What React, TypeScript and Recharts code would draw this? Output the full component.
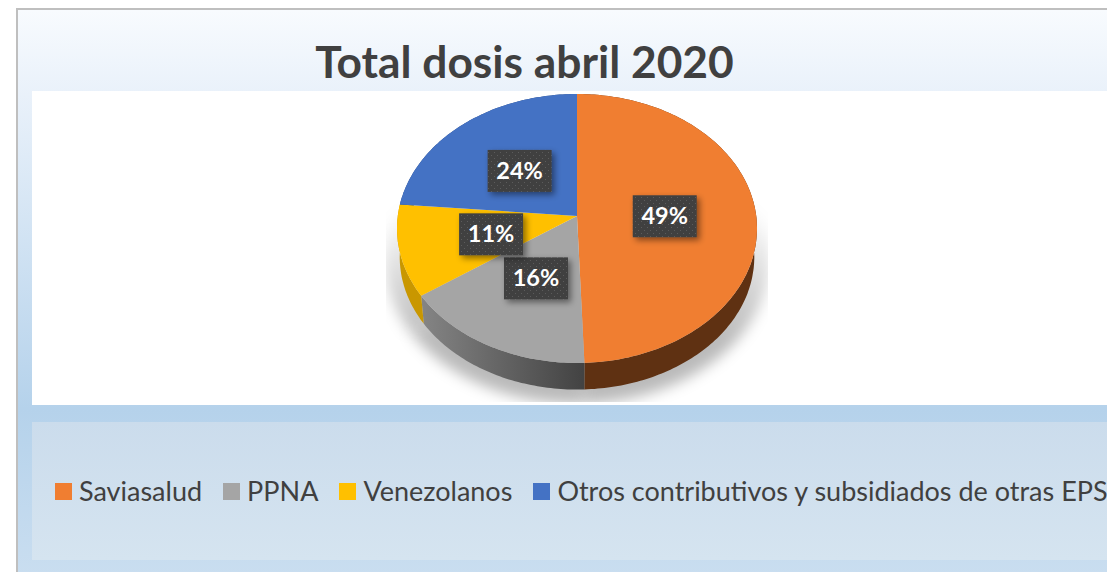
import { PieChart, Pie, Legend } from "recharts";

const categories = ["Saviasalud", "PPNA", "Venezolanos", "Otros contributivos y subsidiados de otras EPS"];
const shares = [49.4, 16.0, 11.0, 23.6];
const colors = ["#f07e31", "#a5a5a5", "#ffc000", "#4472c4"];
const wallColors = ["#5f3112", "url(#grayWall)", "#c99700", "#2b4a80"];

const data = categories.map((name, i) => ({ name, value: shares[i], fill: colors[i] }));

const WIDTH = 1107;
const HEIGHT = 572;
const CX = 577;
const CY = 216;
const RADIUS = 180;
const WALL = 29;
const FONT = "Lato, 'Open Sans', sans-serif";

// the tilted pie is a circle seen in perspective, so the apex sits above the ellipse centre
function project(cx: number, cy: number, r: number, deg: number) {
  const a = (deg * Math.PI) / 180;
  const u = Math.cos(a) * (r / RADIUS);
  const v = Math.sin(a) * (r / RADIUS);
  const w = 1 + 0.0929 * v;
  return { x: cx + (RADIUS * 0.9956 * u) / w, y: cy - (RADIUS * 0.7407 * v) / w };
}

function arcPoints(p: any, dy = 0, scale = 1) {
  const pts: string[] = [];
  const n = Math.max(2, Math.ceil(Math.abs(p.endAngle - p.startAngle)));
  for (let i = 0; i <= n; i++) {
    const deg = p.startAngle + ((p.endAngle - p.startAngle) * i) / n;
    const q = project(p.cx, p.cy, p.outerRadius * scale, deg);
    pts.push(`${q.x.toFixed(1)},${(q.y + dy).toFixed(1)}`);
  }
  return pts;
}

function TopSlice(p: any) {
  return <path d={`M${p.cx},${p.cy} L${arcPoints(p).join(" L")} Z`} fill={p.fill} stroke="none" />;
}

function WallSlice(p: any) {
  const top = arcPoints(p);
  const bottom = arcPoints(p, WALL, 0.985).reverse();
  return <path d={`M${top.join(" L")} L${bottom.join(" L")} Z`} fill={wallColors[p.index]} stroke="none" />;
}

function ShadowSlice(p: any) {
  return (
    <g clipPath="url(#shadowClip)">
      <path
        d={`M${p.cx},${p.cy + 30} L${arcPoints(p, 30).join(" L")} Z`}
        fill="url(#shadowFade)"
        filter="url(#pieBlur)"
      />
    </g>
  );
}

function SliceLabel(p: any) {
  const q = project(p.cx, p.cy, p.outerRadius * 0.49, p.midAngle);
  const y = q.y + 1.5;
  return (
    <g>
      <rect x={q.x - 32} y={y - 21} width={64} height={42} fill="url(#labelDots)" filter="url(#labelShadow)" />
      <text
        x={q.x}
        y={y + 8}
        textAnchor="middle"
        fill="#ffffff"
        fontFamily={FONT}
        fontWeight={700}
        fontSize={23.5}
      >
        {`${Math.round(p.percent * 100)}%`}
      </text>
    </g>
  );
}

function LegendRow({ payload }: any) {
  const items = (payload || []).filter((item: any) => item.type !== "none");
  return (
    <div style={{ display: "flex", alignItems: "center", whiteSpace: "nowrap" }}>
      {items.map((item: any, i: number) => (
        <div key={i} style={{ display: "flex", alignItems: "center", marginRight: 21 }}>
          <span style={{ width: 17, height: 17, background: item.color, marginRight: 7, display: "block" }} />
          <span style={{ fontFamily: FONT, fontSize: 27, color: "#404040", lineHeight: "34px" }}>{item.value}</span>
        </div>
      ))}
    </div>
  );
}

export default function App() {
  return (
    <div style={{ position: "absolute", left: 0, top: 0, width: WIDTH, height: HEIGHT, overflow: "hidden", background: "#fff" }}>
      <div
        style={{
          position: "absolute",
          left: 16,
          top: 8,
          width: WIDTH,
          height: HEIGHT,
          boxSizing: "border-box",
          borderLeft: "2px solid #bfbfbf",
          borderTop: "2px solid #bfbfbf",
          background: "linear-gradient(180deg, #f8fbfe 0%, #e9f1fa 15%, #b5d2eb 70%, #cadef0 100%)",
        }}
      />
      <div style={{ position: "absolute", left: 32, top: 91, width: WIDTH, height: 314, background: "#fff" }} />
      <div
        style={{
          position: "absolute",
          left: 32,
          top: 422,
          width: WIDTH,
          height: 138,
          background: "linear-gradient(180deg, #cbdcec 0%, #d5e4f0 100%)",
        }}
      />
      <div
        style={{
          position: "absolute",
          left: 0,
          top: 35,
          width: 1049,
          textAlign: "center",
          fontFamily: FONT,
          fontWeight: 700,
          fontSize: 44.3,
          lineHeight: "52px",
          color: "#404040",
        }}
      >
        Total dosis abril 2020
      </div>
      <div style={{ position: "absolute", left: 0, top: 0 }}>
        <PieChart width={WIDTH} height={HEIGHT} margin={{ top: 0, right: 0, bottom: 0, left: 0 }}>
          <defs>
            <linearGradient id="grayWall" gradientUnits="userSpaceOnUse" x1={420} y1={0} x2={583} y2={0}>
              <stop offset="0%" stopColor="#858585" />
              <stop offset="100%" stopColor="#434343" />
            </linearGradient>
            <linearGradient id="shadowFade" gradientUnits="userSpaceOnUse" x1={0} y1={205} x2={0} y2={340}>
              <stop offset="0%" stopColor="#000" stopOpacity={0} />
              <stop offset="100%" stopColor="#000" stopOpacity={0.27} />
            </linearGradient>
            <filter id="pieBlur" x="-20%" y="-20%" width="140%" height="140%">
              <feGaussianBlur stdDeviation="7" />
            </filter>
            <clipPath id="shadowClip">
              <rect x={386} y={200} width={382} height={202} />
            </clipPath>
            <filter id="labelShadow" x="-20%" y="-20%" width="150%" height="150%">
              <feDropShadow dx="3" dy="3" stdDeviation="3" floodColor="#000" floodOpacity="0.45" />
            </filter>
            <pattern id="labelDots" width="6" height="6" patternUnits="userSpaceOnUse">
              <rect width="6" height="6" fill="#404040" />
              <rect x="2" y="2" width="1" height="1" fill="#5c5c5c" />
              <rect x="5" y="5" width="1" height="1" fill="#5c5c5c" />
            </pattern>
          </defs>
          <Pie
            data={data}
            dataKey="value"
            nameKey="name"
            cx={CX}
            cy={CY}
            outerRadius={RADIUS + 12}
            startAngle={90}
            endAngle={-270}
            stroke="none"
            legendType="none"
            shape={ShadowSlice}
            isAnimationActive={false}
          />
          <Pie
            data={data}
            dataKey="value"
            nameKey="name"
            cx={CX}
            cy={CY}
            outerRadius={RADIUS}
            startAngle={90}
            endAngle={-270}
            stroke="none"
            legendType="none"
            shape={WallSlice}
            isAnimationActive={false}
          />
          <Pie
            data={data}
            dataKey="value"
            nameKey="name"
            cx={CX}
            cy={CY}
            outerRadius={RADIUS}
            startAngle={90}
            endAngle={-270}
            stroke="none"
            shape={TopSlice}
            label={SliceLabel}
            labelLine={false}
            isAnimationActive={false}
          />
          <Legend
            content={LegendRow}
            itemSorter={null}
            wrapperStyle={{ position: "absolute", left: 55, top: 474, bottom: "auto", width: 1200 }}
          />
        </PieChart>
      </div>
    </div>
  );
}
